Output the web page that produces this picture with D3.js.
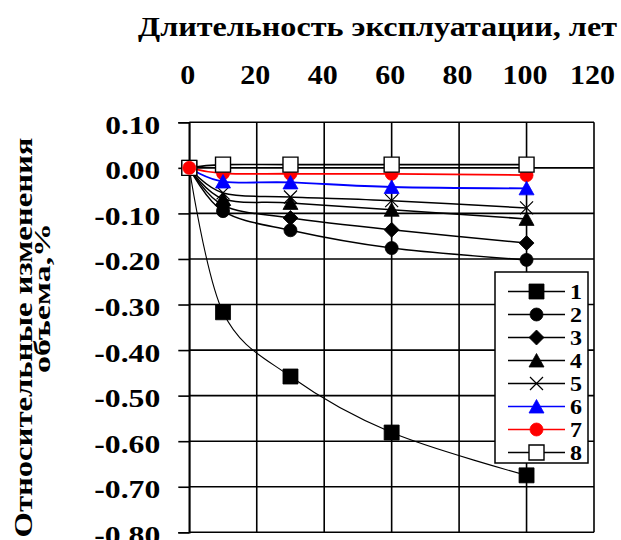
<!doctype html>
<html>
  <head>
    <meta charset="utf-8">
    <script src="https://d3js.org/d3.v7.min.js"></script>
    <style>
      body { margin: 0; background: #fff; }
      text { font-family: "Liberation Serif", "Times New Roman", serif; font-weight: bold; fill: #000; }
    </style>
  </head>
  <body>
    <script>
      /********** data **********/
      var years    = [0, 10, 30, 60, 100];
      var series1  = [0, -0.317, -0.458, -0.581, -0.675];
      var series2  = [0, -0.095, -0.137, -0.176, -0.202];
      var series3  = [0, -0.082, -0.110, -0.136, -0.165];
      var series4  = [0, -0.068, -0.077, -0.092, -0.112];
      var series5  = [0, -0.055, -0.064, -0.072, -0.088];
      var series6  = [0, -0.030, -0.032, -0.042, -0.045];
      var series7  = [0, -0.012, -0.013, -0.013, -0.016];
      var series8  = [0,  0.007,  0.007,  0.007,  0.007];
      var seriesNames = ["1", "2", "3", "4", "5", "6", "7", "8"];
      var xTicks   = [0, 20, 40, 60, 80, 100, 120];
      var yTicks   = [0.1, 0, -0.1, -0.2, -0.3, -0.4, -0.5, -0.6, -0.7, -0.8];
      var yTickLabels = ["0.10", "0.00", "-0.10", "-0.20", "-0.30", "-0.40", "-0.50", "-0.60", "-0.70", "-0.80"];
      var xTitle   = "Длительность эксплуатации, лет";
      var yTitle1  = "Относительные изменения";
      var yTitle2  = "объема,%";

      /********** setup **********/
      var width = 621, height = 540;
      var x = d3.scaleLinear().domain([0, 120]).range([189.3, 594]);
      var y = d3.scaleLinear().domain([-0.8, 0.1]).range([532.3, 122.3]);

      var styles = [
        { shape: "square",   fill: "#000", stroke: "#000", line: "#000", lw: 1.1 },
        { shape: "circle",   fill: "#000", stroke: "#000", line: "#000", lw: 1.5 },
        { shape: "diamond",  fill: "#000", stroke: "#000", line: "#000", lw: 1.5 },
        { shape: "triangle", fill: "#000", stroke: "#000", line: "#000", lw: 1.5 },
        { shape: "cross",    fill: "none", stroke: "#000", line: "#000", lw: 1.5 },
        { shape: "triangle", fill: "#00f", stroke: "#00f", line: "#00f", lw: 1.8 },
        { shape: "circle",   fill: "#f00", stroke: "#f00", line: "#f00", lw: 1.8 },
        { shape: "square",   fill: "#fff", stroke: "#000", line: "#000", lw: 1.6 }
      ];
      var allSeries = [series1, series2, series3, series4, series5, series6, series7, series8]
        .map(function (vals, i) {
          return { name: seriesNames[i], style: styles[i],
                   points: years.map(function (yr, j) { return { x: yr, y: vals[j] }; }) };
        });

      function markerPath(shape) {
        var p = d3.path();
        if (shape === "square") { p.rect(-7.5, -7.5, 15, 15); }
        else if (shape === "circle") { p.arc(0, 0, 6.5, 0, 2 * Math.PI); }
        else if (shape === "diamond") { p.moveTo(0, -7.5); p.lineTo(7.5, 0); p.lineTo(0, 7.5); p.lineTo(-7.5, 0); p.closePath(); }
        else if (shape === "triangle") { p.moveTo(0, -7); p.lineTo(7.5, 6.5); p.lineTo(-7.5, 6.5); p.closePath(); }
        else if (shape === "cross") { p.moveTo(-6.5, -6.5); p.lineTo(6.5, 6.5); p.moveTo(6.5, -6.5); p.lineTo(-6.5, 6.5); }
        return p.toString();
      }
      function drawMarker(g, s, cx, cy) {
        g.append("path")
          .attr("d", markerPath(s.shape))
          .attr("transform", "translate(" + cx + "," + cy + ")")
          .attr("fill", s.fill)
          .attr("stroke", s.stroke)
          .attr("stroke-width", s.shape === "cross" ? 1.2 : (s.fill === "#fff" ? 1.4 : 0.8));
      }

      var svg = d3.select("body").append("svg")
        .attr("width", width).attr("height", height);

      /********** grid **********/
      var grid = svg.append("g").attr("stroke", "#000").attr("stroke-width", 1.6);
      grid.selectAll(".v").data(xTicks).enter().append("line")
        .attr("x1", function (d) { return x(d); }).attr("x2", function (d) { return x(d); })
        .attr("y1", y(0.1)).attr("y2", y(-0.8));
      grid.selectAll(".h").data(yTicks).enter().append("line")
        .attr("x1", x(0)).attr("x2", x(120))
        .attr("y1", function (d) { return y(d); }).attr("y2", function (d) { return y(d); });

      /********** axes **********/
      var yAxis = d3.axisLeft(y).tickValues(yTicks).tickSize(11).tickPadding(18)
        .tickFormat(function (d, i) { return yTickLabels[i]; });
      var gy = svg.append("g").attr("transform", "translate(" + x(0) + ",0)").call(yAxis);
      gy.select(".domain").attr("stroke-width", 1.6);
      gy.selectAll(".tick line").attr("stroke-width", 1.6);
      gy.selectAll(".tick text")
        .attr("font-size", 25).attr("font-family", null)
        .attr("dy", "0.44em")
        .attr("textLength", function (d, i) { return yTickLabels[i].charAt(0) === "-" ? 66 : 55; })
        .attr("lengthAdjust", "spacingAndGlyphs");

      var xAxis = d3.axisTop(x).tickValues(xTicks).tickSize(0).tickPadding(38);
      var gx = svg.append("g").attr("transform", "translate(0," + y(0.1) + ")").call(xAxis);
      gx.select(".domain").remove();
      gx.selectAll(".tick text")
        .attr("font-size", 28).attr("font-family", null)
        .attr("x", -2)
        .attr("textLength", function (d) { return String(d).length * 15; })
        .attr("lengthAdjust", "spacingAndGlyphs");

      /********** titles **********/
      svg.append("text").attr("x", 138).attr("y", 36)
        .attr("font-size", 27)
        .attr("textLength", 479).attr("lengthAdjust", "spacingAndGlyphs")
        .text(xTitle);
      svg.append("text")
        .attr("transform", "translate(32,337.5) rotate(-90)")
        .attr("text-anchor", "middle").attr("font-size", 26)
        .attr("textLength", 400).attr("lengthAdjust", "spacingAndGlyphs")
        .text(yTitle1);
      svg.append("text")
        .attr("transform", "translate(50,298) rotate(-90)")
        .attr("text-anchor", "middle").attr("font-size", 24)
        .attr("textLength", 150).attr("lengthAdjust", "spacingAndGlyphs")
        .text(yTitle2);

      /********** lines and markers **********/
      var line = d3.line()
        .x(function (d) { return x(d.x); })
        .y(function (d) { return y(d.y); })
        .curve(d3.curveCatmullRom.alpha(0));

      var plot = svg.append("g");
      allSeries.forEach(function (s) {
        plot.append("path").datum(s.points)
          .attr("d", line)
          .attr("fill", "none")
          .attr("stroke", s.style.line)
          .attr("stroke-width", s.style.lw);
      });
      // marker order: red series under blue and white squares, except at the origin
      var order = [0, 1, 2, 3, 4, 6, 5, 7];
      order.forEach(function (k) {
        var s = allSeries[k];
        s.points.forEach(function (p) { drawMarker(plot, s.style, x(p.x), y(p.y)); });
      });
      drawMarker(plot, allSeries[6].style, x(allSeries[6].points[0].x), y(allSeries[6].points[0].y));

      /********** legend **********/
      var lg = svg.append("g");
      lg.append("rect").attr("x", 495).attr("y", 272).attr("width", 93).attr("height", 191)
        .attr("fill", "#fff").attr("stroke", "#000").attr("stroke-width", 1.5);
      allSeries.forEach(function (s, i) {
        var cy = 291.5 + i * 23;
        lg.append("line").attr("x1", 508).attr("x2", 565).attr("y1", cy).attr("y2", cy)
          .attr("stroke", s.style.line).attr("stroke-width", 1.6);
        drawMarker(lg, s.style, 536.5, cy);
        lg.append("text").attr("x", 570).attr("y", cy + 7.5)
          .attr("font-size", 22)
          .attr("textLength", 12).attr("lengthAdjust", "spacingAndGlyphs")
          .text(s.name);
      });
    </script>
  </body>
</html>
